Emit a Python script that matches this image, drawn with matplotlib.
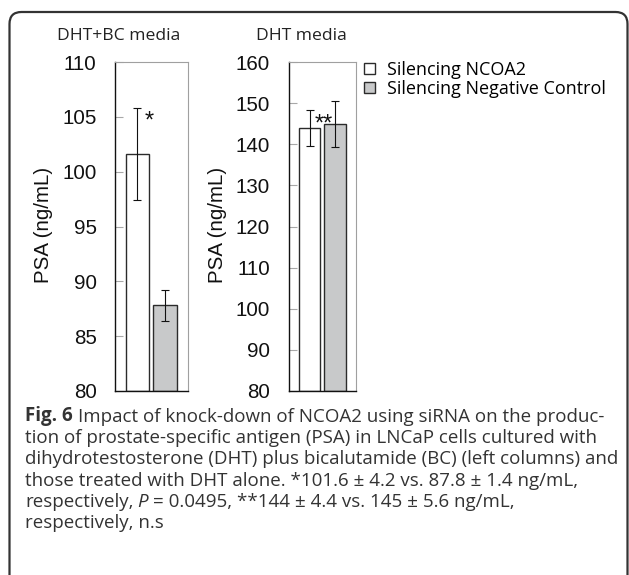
import matplotlib
matplotlib.use("Agg")
import matplotlib.pyplot as plt
from matplotlib.patches import FancyBboxPatch, Patch
from matplotlib.transforms import IdentityTransform

# ---------------- data ----------------
panel_titles = ["DHT+BC media", "DHT media"]
series_labels = ["Silencing NCOA2", "Silencing Negative Control"]
ncoa2_values = [101.6, 144.0]
ncoa2_errors = [4.2, 4.4]
control_values = [87.8, 145.0]
control_errors = [1.4, 5.6]
ylims = [(80, 110), (80, 160)]
yticks = [[80, 85, 90, 95, 100, 105, 110], [80, 90, 100, 110, 120, 130, 140, 150, 160]]
sig_marks = ["*", "**"]
sig_pos = [(0.42, 104.0), (0.56, 143.3)]
ylabel = "PSA (ng/mL)"
caption_lines = [
    [("Fig. 6", "bold", "normal"), ("Impact of knock-down of NCOA2 using siRNA on the produc-", "normal", "normal")],
    [("tion of prostate-specific antigen (PSA) in LNCaP cells cultured with", "normal", "normal")],
    [("dihydrotestosterone (DHT) plus bicalutamide (BC) (left columns) and", "normal", "normal")],
    [("those treated with DHT alone. *101.6 ± 4.2 vs. 87.8 ± 1.4 ng/mL,", "normal", "normal")],
    [("respectively,", "normal", "normal"), ("P", "normal", "italic"), ("= 0.0495, **144 ± 4.4 vs. 145 ± 5.6 ng/mL,", "normal", "normal")],
    [("respectively, n.s", "normal", "normal")],
]

W, H = 629, 575
fig = plt.figure(figsize=(W / 100, H / 100), dpi=100)

WHITE = "#ffffff"
GRAY = "#c8c9ca"
EDGE = "#2b2b2b"

# border
border = FancyBboxPatch((9.5, -20), 618, 563 + 20, boxstyle="round,pad=0,rounding_size=12",
                        transform=IdentityTransform(), fill=False, edgecolor="#333333", lw=1.6)
fig.add_artist(border)

axes_px = [(115, 188), (288.7, 356.3)]
xlims = [(-0.80, 1.82), (-0.84, 1.845)]
label_x = [(43 - 115) / 73, (218 - 288.7) / 67.6]
title_x = [118.5, 301.7]
top_px, bot_px = 62, 391

for i in range(2):
    x0, x1 = axes_px[i]
    ax = fig.add_axes([x0 / W, 1 - bot_px / H, (x1 - x0) / W, (bot_px - top_px) / H])
    ax.bar([0], [ncoa2_values[i] - ylims[i][0]], bottom=ylims[i][0], width=0.84,
           color=WHITE, edgecolor=EDGE, lw=1.0, yerr=[ncoa2_errors[i]],
           error_kw=dict(ecolor="#111111", elinewidth=0.8, capsize=3, capthick=0.8))
    ax.bar([1], [control_values[i] - ylims[i][0]], bottom=ylims[i][0], width=0.84,
           color=GRAY, edgecolor=EDGE, lw=1.0, yerr=[control_errors[i]],
           error_kw=dict(ecolor="#111111", elinewidth=0.8, capsize=3, capthick=0.8))
    ax.set_xlim(*xlims[i])
    ax.set_ylim(*ylims[i])
    ax.set_yticks(yticks[i])
    ax.set_xticks([])
    ax.tick_params(axis="y", direction="in", length=6, color="#a8a8a8", width=0.8,
                   labelsize=14.8, pad=13.3, labelcolor="#111111")
    for lab in ax.get_yticklabels():
        lab.set_fontfamily("Liberation Sans")
    ax.spines["left"].set_color("#111111")
    ax.spines["bottom"].set_color("#111111")
    ax.spines["left"].set_linewidth(1.0)
    ax.spines["bottom"].set_linewidth(1.0)
    for s in ("top", "right"):
        ax.spines[s].set_color("#a0a0a0")
        ax.spines[s].set_linewidth(0.8)
    ax.set_ylabel(ylabel, fontsize=14.8, family="Liberation Sans", va="center", color="#111111")
    ax.yaxis.set_label_coords(label_x[i], 0.506)
    ax.text(sig_pos[i][0], sig_pos[i][1], sig_marks[i], ha="center", va="baseline",
            fontsize=17, family="Liberation Sans", color="#111111")
    fig.text(title_x[i], H - 36.5, panel_titles[i], transform=IdentityTransform(),
             ha="center", va="center", fontsize=12.6, family="Open Sans", color="#222222")
    if i == 1:
        handles = [Patch(facecolor=WHITE, edgecolor=EDGE, lw=1.0),
                   Patch(facecolor=GRAY, edgecolor=EDGE, lw=1.0)]
        ax.legend(handles, series_labels, loc="upper left",
                  bbox_to_anchor=(364 / W, 1 - 61 / H), bbox_transform=fig.transFigure,
                  frameon=False, handlelength=0.6, handleheight=0.6, handletextpad=0.7,
                  labelspacing=0.05, borderaxespad=0, borderpad=0,
                  prop=dict(family="Open Sans", size=13))

# caption
renderer = fig.canvas.get_renderer()
cap_size = 13.5
cap_color = "#333333"
probe1 = fig.text(0, 0, "a a", fontsize=cap_size, family="Open Sans")
probe2 = fig.text(0, 0, "aa", fontsize=cap_size, family="Open Sans")
space_w = probe1.get_window_extent(renderer).width - probe2.get_window_extent(renderer).width
probe1.remove()
probe2.remove()

baselines = [421.5, 443, 464.3, 485.7, 507, 528.5]
for line, yb in zip(caption_lines, baselines):
    x = 25
    for j, (txt, weight, style) in enumerate(line):
        t = fig.text(x, H - yb, txt, transform=IdentityTransform(), ha="left", va="baseline",
                     fontsize=cap_size, family="Open Sans", weight=weight, style=style,
                     color=cap_color)
        gap = 1.0 if (weight == "bold" or style == "italic") else 0.8
        x += t.get_window_extent(renderer).width + space_w * gap

fig.savefig("out.png", dpi=100)
